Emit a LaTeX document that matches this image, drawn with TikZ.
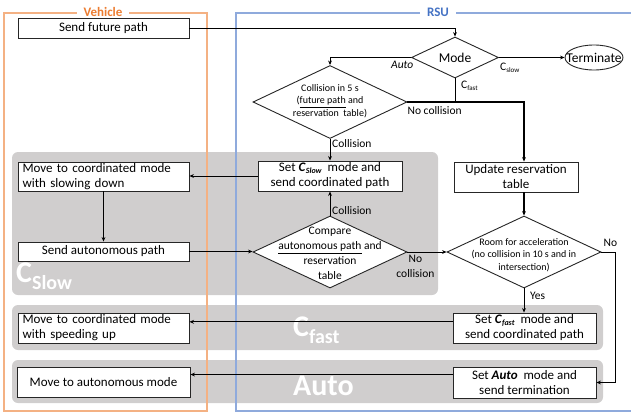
\documentclass[tikz,border=0pt]{standalone}
\usepackage{fontspec}
\setmainfont{Carlito}
\usetikzlibrary{shapes.geometric,arrows.meta,calc}

\definecolor{bandgray}{RGB}{208,206,206}
\definecolor{vehline}{RGB}{244,177,131}
\definecolor{vehtext}{RGB}{237,125,49}
\definecolor{rsuline}{RGB}{143,170,220}
\definecolor{rsutext}{RGB}{68,114,196}

\newcommand{\fsz}[2]{\fontsize{#1}{#2}\selectfont}
\newcommand{\modesym}[1]{\textbf{\textit{C}}\raisebox{-2pt}{\fsz{8}{8}\textbf{\textit{#1}}}}

\begin{document}
\begin{tikzpicture}[x=1pt,y=-1pt,
  box/.style={draw=black!85, line width=0.9pt, fill=white, inner sep=0pt,
              align=center, font=\fsz{13}{15}},
  lbox/.style={box, align=left, text width=162pt},
  dia/.style={diamond, draw=black!85, line width=0.9pt, fill=white, inner sep=0pt},
  txt/.style={inner sep=0pt, align=center},
  lab/.style={inner sep=0pt, font=\fsz{11.5}{14}},
  bandlab/.style={inner sep=0pt, text=white, font=\fsz{30}{30}\bfseries},
  conn/.style={line width=0.9pt, black},
  arr/.style={conn, -{Stealth[length=4.5pt,width=3.8pt]}},
  framelab/.style={fill=white, inner xsep=7pt, inner ysep=1pt, font=\fsz{13}{13}\bfseries}
]
\useasboundingbox (0,0) rectangle (631,415);

% mode bands
\fill[bandgray, rounded corners=6pt] (12,152) rectangle (438,295);
\fill[bandgray, rounded corners=6pt] (12,305) rectangle (603,350);
\fill[bandgray, rounded corners=6pt] (12,360) rectangle (603,403);
\node[bandlab, anchor=base west] (bslow) at (16,282) {C\raisebox{-7pt}{\fsz{20}{20}Slow}};
\node[bandlab, anchor=base west] (bfast) at (293,336) {C\raisebox{-7pt}{\fsz{20}{20}fast}};
\node[bandlab, anchor=base west] (bauto) at (293,395) {Auto};

% vehicle and RSU frames
\draw[vehline, line width=1.2pt] (4,13) rectangle (207,411);
\node[framelab, text=vehtext] (vehlab) at (103,12) {Vehicle};
\draw[rsuline, line width=1.2pt] (236,13) rectangle (645,411);
\node[framelab, text=rsutext] (rsulab) at (438,12) {RSU};

% vehicle side
\node[box, minimum width=171, minimum height=20] (sfp) at (103.5,28) {Send future path};
\node[lbox, minimum width=171, minimum height=29] (moveslow) at (103.5,176.5)
  {Move to coordinated mode\\with slowing down};
\node[box, minimum width=171, minimum height=19] (sendauto) at (103.5,251.5) {Send autonomous path};
\node[lbox, minimum width=171, minimum height=30] (movefast) at (103.5,328)
  {Move to coordinated mode\\with speeding up};
\node[box, minimum width=173, minimum height=30] (moveauto) at (103.5,382) {Move to autonomous mode};

% RSU side
\node[dia, minimum width=87, minimum height=41] (mode) at (455,57.5) {};
\node[txt, font=\fsz{13.5}{14}] (modet) at (455,58) {Mode};
\node[ellipse, draw=black!85, line width=0.9pt, minimum width=58, minimum height=25, inner sep=0pt] (term) at (594,57.5) {};
\node[txt, font=\fsz{13.5}{14}] (termt) at (term) {Terminate};

\node[dia, minimum width=154, minimum height=73] (coll) at (330,102) {};
\node[txt, font=\fsz{10}{12.5}] (collt) at (330,101)
  {Collision in 5 s\\(\underline{future path} and\\reservation~ table)};

\node[box, minimum width=144, minimum height=30] (setslow) at (330,176)
  {Set \modesym{Slow}\ \ mode and\\send coordinated path};

\node[dia, minimum width=154, minimum height=72] (compare) at (330,252) {};
\node[txt, font=\fsz{11.5}{15}] (comparet) at (330,253.5)
  {Compare\\\underline{autonomous path} and\\reservation\\table};

\node[box, minimum width=124, minimum height=30] (update) at (516,177) {Update reservation\\table};

\node[dia, minimum width=154, minimum height=72] (room) at (524,252) {};
\node[txt, font=\fsz{10}{12.5}] (roomt) at (524,255)
  {Room for acceleration\\(no collision in 10 s and in\\intersection)};

\node[box, minimum width=143, minimum height=30] (setfast) at (524.5,328)
  {Set \modesym{fast}\ \ mode and\\send coordinated path};
\node[box, minimum width=143, minimum height=31] (setauto) at (524.5,382.5)
  {Set \textbf{\textit{Auto}}\ \ mode and\\send termination};

% connectors
\draw[arr] (sfp.east) -| (mode.north);
\draw[arr] (mode.west) -| (coll.north);
\draw[arr] (mode.east) -- (term.west);
\draw[conn] (mode.south) -- (mode.south |- coll.east);
\draw[arr, line width=1.5pt] (coll.east) -| (update.north -| room.north);
\draw[arr] (coll.south) -- (setslow.north);
\draw[arr] (setslow.west) -- (setslow.west -| moveslow.east);
\draw[arr] (moveslow.south) -- (sendauto.north);
\draw[arr] (sendauto.east) -- (sendauto.east -| compare.west);
\draw[arr] (compare.north) -- (setslow.south);
\draw[arr] (compare.east) -- (room.west);
\draw[arr, line width=1.2pt] (update.south -| room.north) -- (room.north);
\draw[arr] (room.south) -- (room.south |- setfast.north);
\draw[arr] (room.east) -- ++(14,0) |- (setauto.east);
\coordinate (fastout) at ($(setfast.north west)!0.3!(setfast.south west)$);
\draw[arr] (fastout) -- (fastout -| movefast.east);
\coordinate (autoout) at ($(setauto.north west)!0.25!(setauto.south west)$);
\draw[arr] (autoout) -- (autoout -| moveauto.east);

% connector labels
\node[lab, anchor=north east] (lbauto) at ([xshift=2.5pt,yshift=-3.5pt]mode.west) {\textit{Auto}};
\node[lab, anchor=north west] (lbslow) at ([xshift=1pt,yshift=-5pt]mode.east) {C\raisebox{-2pt}{\fsz{7}{7}slow}};
\node[lab, anchor=north west] (lbfast) at ([xshift=6pt,yshift=-2.5pt]mode.south) {C\raisebox{-2pt}{\fsz{7}{7}fast}};
\node[lab, anchor=north west] (lbnoc1) at ([yshift=-4pt]coll.east) {No collision};
\node[lab, anchor=west] (lbcol1) at ([xshift=2pt,yshift=-4.5pt]coll.south) {Collision};
\node[lab, anchor=west] (lbcol2) at ([xshift=2pt,yshift=5pt]compare.north) {Collision};
\node[lab, anchor=north, align=center, font=\fsz{11.5}{15}] (lbnoc2) at ([xshift=8pt,yshift=-3pt]compare.east) {No\\collision};
\node[lab, anchor=west] (lbyes) at ([xshift=6pt,yshift=-7pt]room.south) {Yes};
\node[lab, anchor=south west] (lbno) at ([xshift=2pt,yshift=5pt]room.east) {No};
\end{tikzpicture}
\end{document}
